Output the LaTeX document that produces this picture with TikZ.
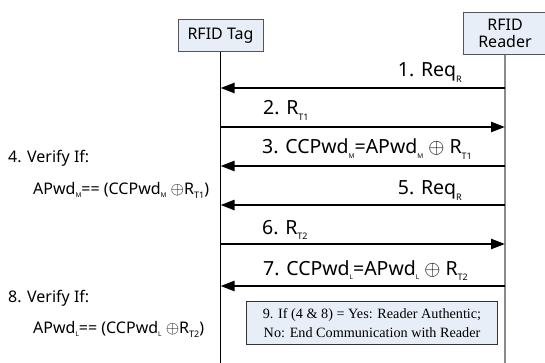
\documentclass[tikz,border=0pt]{standalone}
\usepackage{fontspec}
\setmainfont{Noto Sans}
\newfontfamily\boxserif{Liberation Serif}
\usetikzlibrary{arrows.meta}
\definecolor{boxfill}{HTML}{E8EEF8}
\definecolor{boxedge}{HTML}{555555}
\definecolor{readerline}{HTML}{8A8A8A}
% lowered subscripts: \lsub for R indices, \tsub for the small password indices
\newcommand\lsub[1]{\raisebox{-0.55ex}{\fontsize{9}{9}\selectfont #1}}
\newcommand\tsub[1]{\raisebox{-0.4ex}{\fontsize{6.5}{6.5}\selectfont #1}}
\begin{document}
\begin{tikzpicture}[x=1pt,y=-1pt,
  party/.style={draw=boxedge, fill=boxfill, line width=1pt, inner sep=0pt, align=center, font=\fontsize{16}{17}\selectfont},
  msg/.style={line width=2.3pt, -{Triangle[length=14pt,width=10pt]}},
  lbl/.style={anchor=base west, inner sep=0pt, font=\fontsize{19.5}{21}\selectfont},
  note/.style={anchor=base west, inner sep=0pt, font=\fontsize{16}{18}\selectfont},
]
\useasboundingbox (0,0) rectangle (545,363);
% participants
\node[party, minimum width=85pt, minimum height=32pt] (tag) at (220.5,36) {RFID Tag};
\node[party, minimum width=84pt, minimum height=42pt] (reader) at (505,33.5) {RFID\\Reader};
% lifelines
\coordinate (tagend) at (220.5,363);
\coordinate (readerend) at (505,363);
\draw[line width=1pt] (tag.south) -- (tagend);
\draw[readerline, line width=1.3pt] (reader.south) -- (readerend);
% message anchors on the lifelines
\foreach \n/\y in {1/88,2/127,3/166,5/205,6/244,7/286}{
  \coordinate (t\n) at (220.5,\y);
  \coordinate (r\n) at (505,\y);
}
\draw[msg] (r1) -- (t1);
\draw[msg] (t2) -- (r2);
\draw[msg] (r3) -- (t3);
\draw[msg] (r5) -- (t5);
\draw[msg] (t6) -- (r6);
\draw[msg] (r7) -- (t7);
% message labels
\node[lbl, anchor=base east] (m1) at (462,77) {1. Req\lsub{R}};
\node[lbl] (m2) at (263,115) {2. R\lsub{T1}};
\node[lbl] (m3) at (262,154) {3. CCPwd\tsub{M}=APwd\tsub{M} $\oplus$ R\lsub{T1}};
\node[lbl, anchor=base east] (m5) at (462,195) {5. Req\lsub{R}};
\node[lbl] (m6) at (262,234) {6. R\lsub{T2}};
\node[lbl] (m7) at (263,275) {7. CCPwd\tsub{L}=APwd\tsub{L} $\oplus$ R\lsub{T2}};
% tag-side checks
\node[note] (v4) at (8,163) {4. Verify If:};
\node[note] (c4) at (33,194) {APwd\tsub{M}== (CCPwd\tsub{M} $\oplus$R\lsub{T1})};
\node[note] (v8) at (8,302) {8. Verify If:};
\node[note] (c8) at (33,333) {APwd\tsub{L}== (CCPwd\tsub{L} $\oplus$R\lsub{T2})};
% final decision
\node[draw=black!80, fill=boxfill, line width=1pt, minimum width=251pt, minimum height=43pt, align=center, inner sep=0pt,
      font=\boxserif\fontsize{14.2}{19.5}\selectfont] (auth) at (372,323)
  {9. If (4 \& 8) = Yes: Reader Authentic;\\No: End Communication with Reader};
\end{tikzpicture}
\end{document}
